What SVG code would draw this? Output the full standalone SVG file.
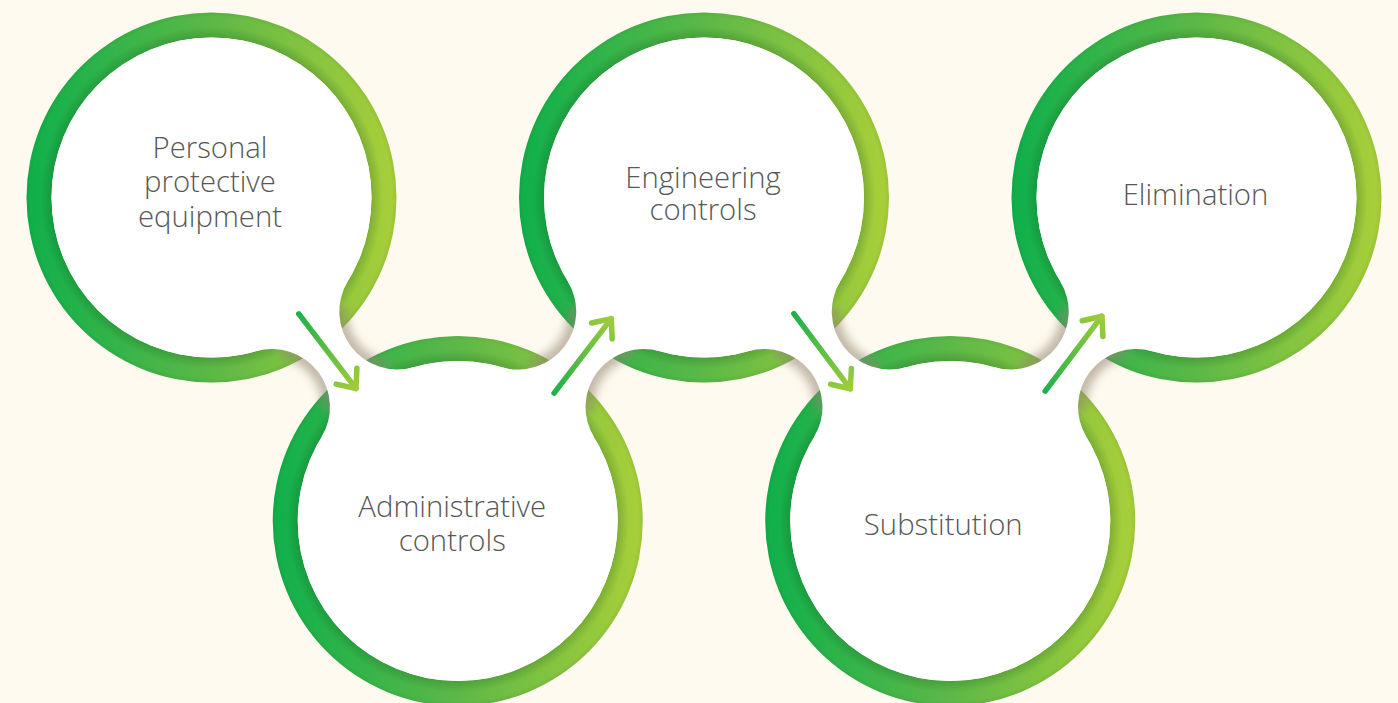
<svg xmlns="http://www.w3.org/2000/svg" width="1398" height="703" viewBox="0 0 1398 703">
  <defs>
    <linearGradient id="ringGrad" x1="0" y1="0" x2="1" y2="0">
      <stop offset="0" stop-color="#0fb04b"/>
      <stop offset="0.5" stop-color="#5cb847"/>
      <stop offset="1" stop-color="#a9cf39"/>
    </linearGradient>
    <radialGradient id="ringShade" cx="0.5" cy="0.5" r="0.5">
      <stop offset="0.865" stop-color="#0a3d10" stop-opacity="0.2"/>
      <stop offset="0.925" stop-color="#0a3d10" stop-opacity="0"/>
      <stop offset="0.975" stop-color="#0a3d10" stop-opacity="0"/>
      <stop offset="1" stop-color="#0a3d10" stop-opacity="0.08"/>
    </radialGradient>
    <linearGradient id="arrowGrad" gradientUnits="userSpaceOnUse" x1="-95" y1="0" x2="0" y2="0">
      <stop offset="0" stop-color="#1cb04b"/>
      <stop offset="1" stop-color="#9fcc3b"/>
    </linearGradient>
    <filter id="blur" x="-50%" y="-50%" width="200%" height="200%">
      <feGaussianBlur stdDeviation="5"/>
    </filter>
    <path id="ring" d="M-185,0 A185,185 0 1,0 185,0 A185,185 0 1,0 -185,0 Z M-160,0 A160,160 0 1,1 160,0 A160,160 0 1,1 -160,0 Z" fill-rule="evenodd"/>
    <g id="junction">
      <g filter="url(#blur)" fill="none" stroke="#8f8270" stroke-opacity="0.55" stroke-width="16" stroke-linecap="round">
        <path d="M-33.27,31.24 A58,58 0 0,1 33.27,31.24"/>
        <path d="M33.27,-31.24 A58,58 0 0,1 -33.27,-31.24"/>
      </g>
      <path fill="#ffffff" d="M-54.08,57.8 A58,58 0 0,1 54.08,57.8 L54.08,-57.8 A58,58 0 0,1 -54.08,-57.8 Z"/>
    </g>
    <g id="arrow" fill="none" stroke="url(#arrowGrad)" stroke-width="5.5" stroke-linecap="round" stroke-linejoin="round">
      <path d="M-94,0 L0,0"/>
      <path d="M-15.5,-13 L0,0 L-15.5,13"/>
    </g>
  </defs>
  <style>
    .ring { fill: url(#ringGrad); }
    .shade { fill: url(#ringShade); }
    .disc { fill: #ffffff; }
    .label { font-family: "Open Sans", "Liberation Sans", sans-serif; font-weight: 300; font-size: 29.3px; fill: #575757; text-anchor: middle; }
  </style>
  <rect x="0" y="0" width="1398" height="703" fill="#fefaef"/>

  <g id="node-ppe" transform="translate(211.5,197.5)">
    <use href="#ring" class="ring"/>
    <use href="#ring" class="shade"/>
    <circle r="160" class="disc"/>
    <text class="label"><tspan x="-1.5" y="-40">Personal</tspan><tspan x="-1.5" y="-5.5">protective</tspan><tspan x="-1.5" y="29">equipment</tspan></text>
  </g>
  <g id="node-admin" transform="translate(457.75,521)">
    <use href="#ring" class="ring"/>
    <use href="#ring" class="shade"/>
    <circle r="160" class="disc"/>
    <text class="label"><tspan x="-5.5" y="-4.5">Administrative</tspan><tspan x="-5.5" y="29.5">controls</tspan></text>
  </g>
  <g id="node-engineering" transform="translate(704,197.5)">
    <use href="#ring" class="ring"/>
    <use href="#ring" class="shade"/>
    <circle r="160" class="disc"/>
    <text class="label"><tspan x="-1" y="-10">Engineering</tspan><tspan x="-1" y="22.5">controls</tspan></text>
  </g>
  <g id="node-substitution" transform="translate(950.25,521)">
    <use href="#ring" class="ring"/>
    <use href="#ring" class="shade"/>
    <circle r="160" class="disc"/>
    <text class="label" x="-7" y="14">Substitution</text>
  </g>
  <g id="node-elimination" transform="translate(1196.5,197.5)">
    <use href="#ring" class="ring"/>
    <use href="#ring" class="shade"/>
    <circle r="160" class="disc"/>
    <text class="label" x="-1" y="7.5">Elimination</text>
  </g>

  <g id="connectors">
    <use href="#junction" transform="translate(334.625,359.25) rotate(52.72)"/>
    <use href="#junction" transform="translate(580.875,359.25) rotate(-52.72)"/>
    <use href="#junction" transform="translate(827.125,359.25) rotate(52.72)"/>
    <use href="#junction" transform="translate(1073.375,359.25) rotate(-52.72)"/>
    <use href="#arrow" transform="translate(356,388.5) rotate(52.5)"/>
    <use href="#arrow" transform="translate(611.3,318.6) rotate(-52.5)"/>
    <use href="#arrow" transform="translate(850.3,388.8) rotate(53.1)"/>
    <use href="#arrow" transform="translate(1101.9,316.2) rotate(-52.9)"/>
  </g>
</svg>
